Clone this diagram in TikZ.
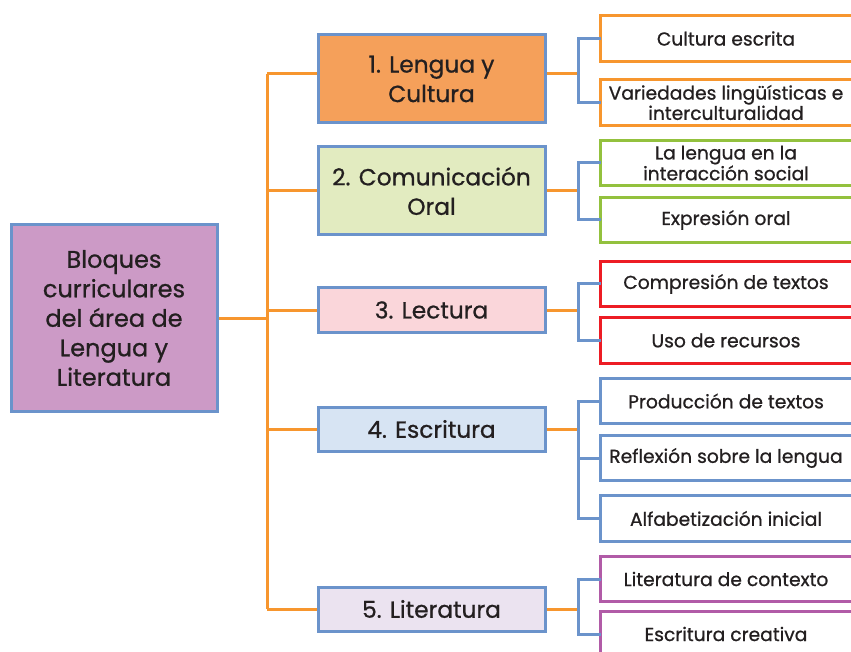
\documentclass[tikz,border=0pt]{standalone}
\usepackage{fontspec}
\setmainfont{Poppins}[RawFeature={embolden=0.8}]
\definecolor{oline}{HTML}{F7962E}
\definecolor{bline}{HTML}{6B93CB}
\definecolor{fmain}{HTML}{CC9AC6}
\definecolor{fA}{HTML}{F5A05A}
\definecolor{fB}{HTML}{E2EBC0}
\definecolor{fC}{HTML}{FAD6DA}
\definecolor{fD}{HTML}{D7E4F3}
\definecolor{fE}{HTML}{EBE3F0}
\definecolor{cgreen}{HTML}{93C13E}
\definecolor{cred}{HTML}{ED1C24}
\definecolor{cpurple}{HTML}{B15BA7}
\definecolor{txt}{HTML}{231F20}
\begin{document}
\begin{tikzpicture}[x=1pt,y=-1pt,
  every node/.style={text=txt},
  mainbox/.style={draw=bline, line width=3pt, fill=fmain, minimum width=206pt, minimum height=186pt, align=center, inner sep=0pt, font=\fontsize{24}{29.5}\selectfont},
  catbox/.style={draw=bline, line width=3pt, minimum width=227pt, align=center, inner sep=0pt, font=\fontsize{23.3}{29.5}\selectfont},
  subbox/.style={minimum width=250pt, minimum height=45pt, align=center, inner sep=0pt, font=\fontsize{18.7}{18}\selectfont},
  orangeln/.style={draw=oline, line width=3pt},
  blueln/.style={draw=bline, line width=3pt},
  subframe/.style={line width=3pt}]
\useasboundingbox (0,0) rectangle (851,652);
\clip (0,0) rectangle (851,652);
\fill[white] (0,0) rectangle (851,652);

% nodes
\node[mainbox] (main) at (114,318) {Bloques\\curriculares\\del área de\\Lengua y\\Literatura};
\node[catbox, fill=fA, minimum height=88pt] (b1) at (431.5,79) {1. Lengua y\\Cultura};
\node[catbox, fill=fB, minimum height=88pt] (b2) at (431.5,191) {2. Comunicación\\Oral};
\node[catbox, fill=fC, minimum height=44pt] (b3) at (431.5,310) {3. Lectura};
\node[catbox, fill=fD, minimum height=44pt] (b4) at (431.5,429) {4. Escritura};
\node[catbox, fill=fE, minimum height=44pt] (b5) at (431.5,609) {5. Literatura};

\node[subbox] (r1a) at (726,38.5) {Cultura escrita};
\node[subbox] (r1b) at (726,102.5) {Variedades lingüísticas e\\interculturalidad};
\node[subbox] (r2a) at (726,163) {La lengua en la\\interacción social};
\node[subbox] (r2b) at (726,220) {Expresión oral};
\node[subbox] (r3a) at (726,284) {Compresión de textos};
\node[subbox] (r3b) at (726,340.5) {Uso de recursos};
\node[subbox] (r4a) at (726,401) {Producción de textos};
\node[subbox] (r4b) at (726,458) {\raisebox{5pt}{Reflexión sobre la lengua}};
\node[subbox] (r4c) at (726,518.5) {Alfabetización inicial};
\node[subbox] (r5a) at (726,579) {Literatura de contexto};
\node[subbox] (r5b) at (726,634) {Escritura creativa};

% sub box frames (open to the right edge)
\foreach \n/\c in {r1a/oline, r1b/oline, r2a/cgreen, r2b/cgreen, r3a/cred, r3b/cred, r4a/bline, r4b/bline, r4c/bline, r5a/cpurple, r5b/cpurple}
  \draw[subframe, draw=\c] (\n.north west) rectangle ([xshift=20pt]\n.south east);

\coordinate (tr) at (267,0);
\coordinate (br) at (578,0);
\coordinate (b1c) at ([yshift=5pt]b1.west);
\coordinate (b1e) at ([yshift=5pt]b1.east);

% trunk
\draw[orangeln] (main.east) -- (main.east -| tr);
\draw[orangeln] (tr |- b1c) -- (tr |- b5.west);
\draw[orangeln] (tr |- b1c) -- (b1c);
\foreach \b in {b2,b3,b4,b5}
  \draw[orangeln] (tr |- \b.west) -- (\b.west);

% level-1 to brackets
\draw[orangeln] (b1e) -- (b1e -| br);
\foreach \b in {b2,b3,b4,b5}
  \draw[orangeln] (\b.east) -- (\b.east -| br);

% brackets
\foreach \u/\l in {r1a/r1b, r2a/r2b, r3a/r3b, r4a/r4c, r5a/r5b}
  \draw[blueln] (\u.west) -- (\u.west -| br) -- (\l.west -| br) -- (\l.west);
\draw[blueln] (r4b.west -| br) -- (r4b.west);
\end{tikzpicture}
\end{document}
